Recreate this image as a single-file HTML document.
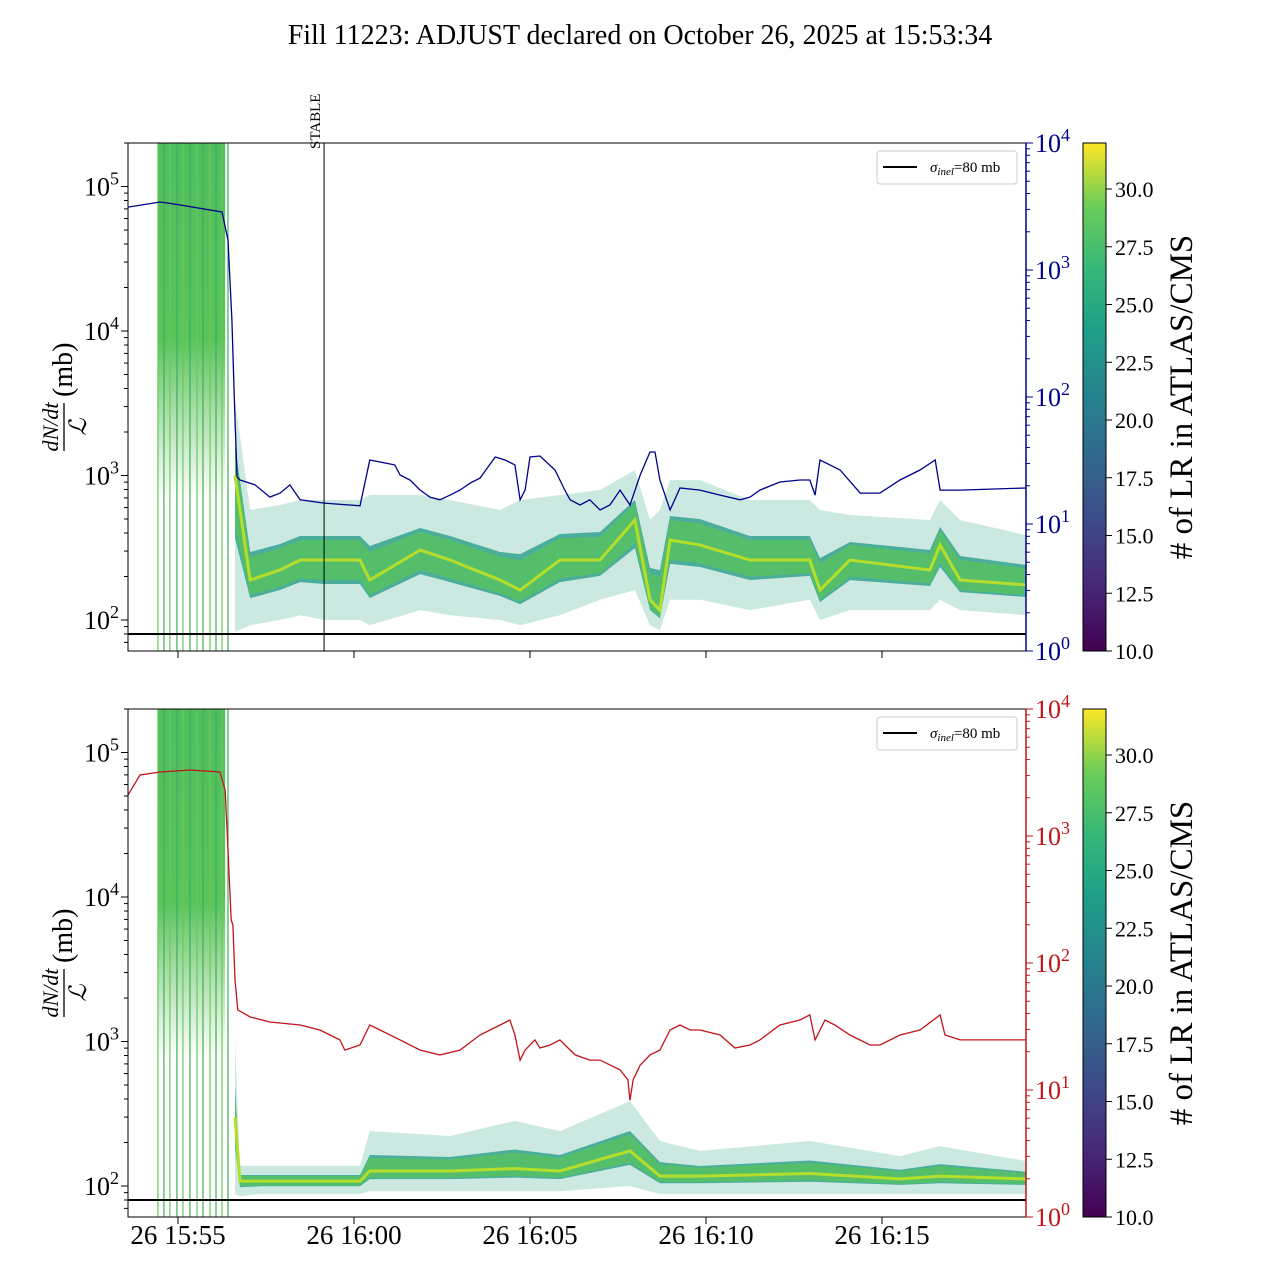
<!DOCTYPE html>
<html><head><meta charset="utf-8"><style>
html,body{margin:0;padding:0;background:#fff;width:1280px;height:1280px;overflow:hidden}
svg{display:block;font-family:"Liberation Serif","DejaVu Serif",serif}
</style></head><body>
<svg id="chart" width="1280" height="1280" viewBox="0 0 1280 1280" xmlns="http://www.w3.org/2000/svg">
<defs>
<linearGradient id="viridis" x1="0" y1="1" x2="0" y2="0">
<stop offset="0" stop-color="#440154"/><stop offset="0.13" stop-color="#482878"/><stop offset="0.25" stop-color="#3e4989"/><stop offset="0.38" stop-color="#31688e"/><stop offset="0.5" stop-color="#26828e"/><stop offset="0.63" stop-color="#1f9e89"/><stop offset="0.75" stop-color="#35b779"/><stop offset="0.88" stop-color="#6ece58"/><stop offset="1" stop-color="#fde725"/>
</linearGradient>
<linearGradient id="spikeTop" x1="0" y1="143" x2="0" y2="500" gradientUnits="userSpaceOnUse">
<stop offset="0" stop-color="#4fbf5e"/><stop offset="0.55" stop-color="#58c45c"/><stop offset="1" stop-color="#6ec46a" stop-opacity="0"/>
</linearGradient>
<linearGradient id="spikeBot" x1="0" y1="709" x2="0" y2="1060" gradientUnits="userSpaceOnUse">
<stop offset="0" stop-color="#4fbf5e"/><stop offset="0.55" stop-color="#58c45c"/><stop offset="1" stop-color="#6ec46a" stop-opacity="0"/>
</linearGradient>
<clipPath id="clipTop"><rect x="128" y="143" width="898" height="508"/></clipPath>
<clipPath id="clipBot"><rect x="128" y="709" width="898" height="508"/></clipPath>
</defs>
<text x="640" y="44" font-size="28" text-anchor="middle">Fill 11223: ADJUST declared on October 26, 2025 at 15:53:34</text>
<g id="top"></g>
<g id="bot"></g>
<g id="cbars"></g>
</svg>
<script>
// ---- data (time in minutes after 15:55) ----
const blueT = [-1.42,-0.51,-0.09,1.25,1.42,1.53,1.62,1.68,1.76,2.19,2.61,2.90,3.18,3.47,4.15,5.17,5.45,5.74,6.16,6.31,6.59,6.88,7.16,7.44,7.73,8.01,8.30,8.58,9.01,9.29,9.57,9.72,9.86,10.0,10.28,10.71,10.99,11.14,11.42,11.70,11.99,12.27,12.56,12.84,13.13,13.41,13.55,13.69,13.98,14.26,14.83,15.40,15.97,16.25,16.53,17.10,17.67,17.95,18.10,18.24,18.52,18.81,19.38,19.94,20.51,21.08,21.51,21.65,22.22,24.09];
const blueV = [3130,3430,3300,2860,1720,404,65.9,23.5,22.2,20.3,16.3,17.5,20.3,15.5,14.6,13.9,31.9,30.8,29.2,24.3,22.2,18.5,16.3,15.5,16.9,18.5,21.0,23.0,33.7,31.9,29.2,15.5,18.5,33.7,34.3,26.6,18.5,15.5,14.1,15.5,12.9,14.1,18.5,14.1,24.3,36.9,36.9,22.2,12.9,19.2,18.5,16.9,15.5,16.3,18.5,21.4,22.2,22.2,16.9,31.9,29.2,26.6,17.5,17.5,22.2,26.6,31.9,18.5,18.5,19.2];
const redT = [-1.42,-1.08,-0.51,0.34,1.19,1.34,1.42,1.51,1.56,1.62,1.70,2.05,2.61,3.47,4.03,4.60,4.74,5.17,5.45,5.74,6.31,6.88,7.44,8.01,8.58,9.15,9.43,9.57,9.72,9.86,10.14,10.28,10.57,10.85,11.28,11.70,11.99,12.56,12.78,12.84,12.93,13.13,13.41,13.69,13.98,14.26,14.55,14.83,15.40,15.82,16.25,16.53,17.10,17.67,17.95,18.10,18.38,18.66,19.09,19.66,19.94,20.51,21.08,21.65,21.79,22.22,23.35,24.09];
const redV = [2100,3020,3190,3310,3190,2300,776,218,199,73.5,42.7,37.6,34.3,32.5,29.7,24.8,20.6,22.6,32.5,29.7,24.8,20.6,18.9,20.6,27.1,32.5,35.6,27.1,17.2,20.6,24.8,21.4,22.6,24.8,18.9,17.2,17.2,14.4,12.0,8.3,12.0,15.7,18.9,20.6,29.7,32.5,29.7,29.7,27.1,21.4,22.6,24.8,32.5,35.6,39.0,24.8,35.6,32.5,27.1,22.6,22.6,27.1,29.7,39.0,27.1,24.8,24.8,24.8];
const topBandT = [1.62,2.05,2.90,3.47,4.15,5.17,5.45,6.88,7.73,9.15,9.72,10.85,11.99,12.98,13.41,13.69,13.98,14.83,16.25,17.95,18.24,19.09,21.36,21.65,22.22,24.09];
const topUpper = [3330,577,625,677,677,677,733,733,677,577,677,733,794,1090,492,577,930,930,677,677,577,533,492,677,492,387];
const topMid   = [1000,189,222,260,260,260,189,305,260,189,161,260,260,492,138,117,358,330,260,260,161,260,222,330,189,175];
const topLower = [83,92,100,108,100,100,92,117,108,100,92,108,138,161,92,85,138,138,117,138,100,117,117,138,117,108];
const botBandT = [1.62,1.76,2.33,5.17,5.45,7.73,9.57,10.85,12.84,13.69,14.83,17.95,20.51,21.65,24.09];
const botUpper = [1010,138,138,138,240,222,282,240,387,205,175,205,161,189,149];
const botMid   = [300,108,108,108,127,127,132,127,175,117,117,122,112,117,112];
const botLower = [88,85,88,88,92,92,92,92,100,88,88,88,88,88,88];
const spikeLineT = [-0.57,-0.40,-0.23,-0.03,0.14,0.34,0.54,0.71,0.91,1.08,1.25,1.42];
const xTickLabels = ["26 15:55","26 16:00","26 16:05","26 16:10","26 16:15"];
const xTickT = [0,5,10,15,20];
const leftTickExp = [2,3,4,5];
const rightTickExp = [0,1,2,3,4];
const cbarTicks = [10.0,12.5,15.0,17.5,20.0,22.5,25.0,27.5,30.0];
const sigmaInel = 80;
const stableT = 4.15;

const NS = "http://www.w3.org/2000/svg";
function mk(parent, tag, attrs, text){
  const e = document.createElementNS(NS, tag);
  for (const k in attrs) e.setAttribute(k, attrs[k]);
  if (text !== undefined) e.textContent = text;
  parent.appendChild(e);
  return e;
}
const xS = t => 178 + t*35.2;
const L10 = v => Math.log10(v);

function panel(g, top, clipId, rightColor, rightT, rightV, bandT, up, mid, lo, spikeGrad, showXLabels, spikeBottom){
  const bot = top + 508;
  const yL = v => (top + 477) - (L10(v) - 2) * 144.5;
  const yR = v => bot - L10(v) * 127;
  const cg = mk(g, 'g', {'clip-path':'url(#'+clipId+')'});
  
  
  let sp = mk(cg, 'rect', {x:xS(spikeLineT[0]), y:top, width:xS(1.34)-xS(spikeLineT[0]), height:spikeBottom-top, fill:'url(#'+spikeGrad+')'});
  
  
  spikeLineT.forEach((t,i)=>{
    const l = mk(cg, 'line', {x1:xS(t), x2:xS(t), y1:top, y2:bot, stroke: i%2? '#3fae5a':'#6cc85a', 'stroke-width':1.2});
    
    
  });
  const ptsUp = bandT.map((t,i)=>[xS(t), yL(up[i])]);
  const ptsLo = bandT.map((t,i)=>[xS(t), yL(lo[i])]);
  const ptsMid = bandT.map((t,i)=>[xS(t), yL(mid[i])]);
  const mixUp = bandT.map((t,i)=>[xS(t), (yL(up[i])+yL(mid[i])*2)/3]);
  const mixLo = bandT.map((t,i)=>[xS(t), (yL(lo[i])+yL(mid[i])*2)/3]);
  const poly = (a,b)=> a.concat(b.slice().reverse()).map(p=>p[0].toFixed(1)+','+p[1].toFixed(1)).join(' ');
  let b1 = mk(cg, 'polygon', {points:poly(ptsUp, ptsLo), fill:'#6cbfa8', 'fill-opacity':0.35});
  
  
  const midUp2 = bandT.map((t,i)=>[xS(t), (yL(up[i])*0.4+yL(mid[i])*0.6)]);
  const midLo2 = bandT.map((t,i)=>[xS(t), (yL(lo[i])*0.4+yL(mid[i])*0.6)]);
  let b2 = mk(cg, 'polygon', {points:poly(midUp2, midLo2), fill:'#2a9d8a', 'fill-opacity':0.8});
  
  
  let b3 = mk(cg, 'polygon', {points:poly(mixUp, mixLo), fill:'#56c066', 'fill-opacity':0.9});
  
  
  let ml = mk(cg, 'polyline', {points:ptsMid.map(p=>p.join(',')).join(' '), fill:'none', stroke:'#b5de2b', 'stroke-width':3});
  
  
  let sl = mk(cg, 'line', {x1:128, x2:1026, y1:yL(sigmaInel), y2:yL(sigmaInel), stroke:'#000', 'stroke-width':2});
  
  
  let rl = mk(cg, 'polyline', {points:rightT.map((t,i)=>xS(t).toFixed(1)+','+yR(rightV[i]).toFixed(1)).join(' '), fill:'none', stroke:rightColor, 'stroke-width':1.3});
  
  
  let fr = mk(g, 'rect', {x:128, y:top, width:898, height:508, fill:'none', stroke:'#000', 'stroke-width':1});
  
  
  let rs = mk(g, 'line', {x1:1026, x2:1026, y1:top, y2:bot, stroke:rightColor, 'stroke-width':1.5});
  
  
  leftTickExp.forEach(e=>{
    const y = yL(Math.pow(10,e));
    let tk = mk(g, 'line', {x1:121, x2:128, y1:y, y2:y, stroke:'#000'});
    
    
    const tx = mk(g, 'text', {x:84, y:y+9, 'font-size':26});
    
    
    tx.textContent = '10';
    mk(tx, 'tspan', {dy:-11, 'font-size':18}, String(e));
    for (let m=2;m<10;m++){
      const ym = yL(m*Math.pow(10,e));
      if (ym>top && ym<bot){ let mt = mk(g,'line',{x1:124,x2:128,y1:ym,y2:ym,stroke:'#000'});   }
    }
    [9,8,7,6].forEach(m=>{ const v=yL(Math.pow(10,e-1)*m); if(v<bot&&v>top&&e===2){ let mt=mk(g,'line',{x1:124,x2:128,y1:v,y2:v,stroke:'#000'});   } });
  });
  rightTickExp.forEach(e=>{
    const y = yR(Math.pow(10,e));
    let tk = mk(g, 'line', {x1:1026, x2:1033, y1:y, y2:y, stroke:rightColor});
    
    
    const tx = mk(g, 'text', {x:1035, y:y+9, 'font-size':26, fill:rightColor});
    
    
    tx.textContent = '10';
    mk(tx, 'tspan', {dy:-11, 'font-size':18}, String(e));
    if (e<4) for (let m=2;m<10;m++){ const ym=yR(m*Math.pow(10,e)); let mt=mk(g,'line',{x1:1026,x2:1030,y1:ym,y2:ym,stroke:rightColor});   }
  });
  xTickT.forEach((t,i)=>{
    let tk = mk(g, 'line', {x1:xS(t), x2:xS(t), y1:bot, y2:bot+7, stroke:'#000'});
    
    
    if (showXLabels){
      const tx = mk(g, 'text', {x:xS(t), y:bot+27, 'font-size':27, 'text-anchor':'middle'}, xTickLabels[i]);
      
      
    }
  });
  const yl = mk(g, 'g', {transform:'translate(62,'+(top+254)+') rotate(-90)'});
  
  
  mk(yl, 'text', {x:-30, y:-4, 'font-size':22, 'font-style':'italic', 'text-anchor':'middle'}, 'dN/dt');
  mk(yl, 'line', {x1:-54, x2:-6, y1:2, y2:2, stroke:'#000', 'stroke-width':1.3});
  mk(yl, 'text', {x:-30, y:24, 'font-size':24, 'font-style':'italic', 'text-anchor':'middle'}, 'ℒ');
  mk(yl, 'text', {x:0, y:10, 'font-size':28}, '(mb)');
  const lg = mk(g, 'g', {});
  
  
  mk(lg, 'rect', {x:877, y:top+8, width:140, height:33, rx:3, fill:'#fff', stroke:'#ccc'});
  mk(lg, 'line', {x1:883, x2:917, y1:top+24, y2:top+24, stroke:'#000', 'stroke-width':2});
  const lt = mk(lg, 'text', {x:930, y:top+29, 'font-size':15});
  
  
  mk(lt, 'tspan', {'font-style':'italic'}, 'σ');
  mk(lt, 'tspan', {'font-style':'italic', 'font-size':11, dy:3}, 'inel');
  mk(lt, 'tspan', {dy:-3}, '=80 mb');
}

const topG = document.getElementById('top');
const botG = document.getElementById('bot');
panel(topG, 143, 'clipTop', '#00008b', blueT, blueV, topBandT, topUpper, topMid, topLower, 'spikeTop', false, 500);
panel(botG, 709, 'clipBot', '#c0151a', redT, redV, botBandT, botUpper, botMid, botLower, 'spikeBot', true, 1060);

const sx = xS(stableT);
let st = mk(topG, 'line', {x1:sx, x2:sx, y1:143, y2:651, stroke:'#000', 'stroke-width':1});


let stt = mk(topG, 'text', {x:0, y:0, 'font-size':15, transform:'translate('+(sx-4)+',149) rotate(-90)'}, 'STABLE');



const cb = document.getElementById('cbars');
[143, 709].forEach(top=>{
  const bot = top+508;
  const yC = v => bot - (v-10)*23.1;
  let r = mk(cb, 'rect', {x:1083, y:top, width:23, height:508, fill:'url(#viridis)', stroke:'#000', 'stroke-width':1});
  
  
  cbarTicks.forEach(v=>{
    const y = yC(v);
    let tk = mk(cb, 'line', {x1:1106, x2:1112, y1:y, y2:y, stroke:'#000'});
    
    
    let tx = mk(cb, 'text', {x:1115, y:y+8, 'font-size':22}, v.toFixed(1));
    
    
  });
  let lb = mk(cb, 'text', {x:0, y:0, 'font-size':33, 'text-anchor':'middle', transform:'translate(1192,'+(top+254)+') rotate(-90)'}, '# of LR in ATLAS/CMS');
  
  
});
</script>
</body></html>
